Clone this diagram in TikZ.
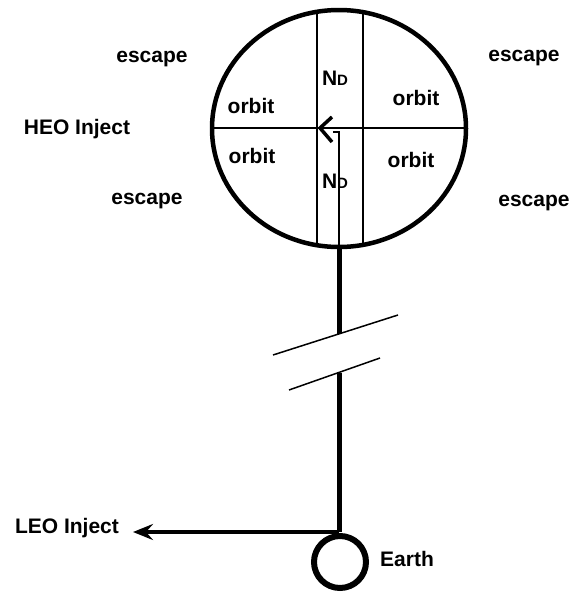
\documentclass[tikz,border=0pt]{standalone}
\usepackage{fontspec}
\setmainfont{Liberation Sans}
\usetikzlibrary{arrows.meta,shapes.geometric}
\tikzset{
  lbl/.style={font=\fontsize{21}{24}\selectfont\bfseries, anchor=base, inner sep=0pt},
  thin line/.style={line width=2pt},
  thick line/.style={line width=5pt},
  break line/.style={line width=1.5pt},
}
\newcommand{\ND}{N{\fontsize{15}{15}\selectfont D}}
\begin{document}
\begin{tikzpicture}[x=1pt,y=-1pt]
\useasboundingbox (0,0) rectangle (572,592);
% main sphere
\node[draw, ellipse, line width=4.5pt, minimum width=254pt, minimum height=237pt, inner sep=0pt] (heo) at (339,128.5) {};
\begin{scope}
  \clip (339,128.5) ellipse [x radius=127pt, y radius=118.5pt];
  \draw[thin line] (317,0) -- (317,260);
  \draw[thin line] (363,0) -- (363,260);
  \draw[thin line] (200,128) -- (480,128);
  \draw[thin line] (333,132) -- (339,132) -- (339,260);
\end{scope}
% arrowhead at centre
\coordinate (ctr) at (320,128);
\draw[line width=3.5pt] (332,117) -- (ctr) -- (332,142);
% stem
\coordinate (stemtop) at (339,247);
\coordinate (stembreak1) at (339,334);
\coordinate (stembreak2) at (339,373);
\coordinate (leo) at (339,532);
\coordinate (leotip) at (133,532);
\draw[thick line] (stemtop) -- (stembreak1);
\draw[thick line] (stembreak2) -- (leo);
\coordinate (b1a) at (273,355); \coordinate (b1b) at (398,315);
\coordinate (b2a) at (289,390); \coordinate (b2b) at (380,358);
\draw[break line] (b1a) -- (b1b);
\draw[break line] (b2a) -- (b2b);
% LEO arrow
\draw[line width=3.5pt, -{Stealth[length=20pt,width=16pt,inset=7pt]}] (leo) -- (leotip);
% Earth
\node[draw, circle, line width=6pt, minimum size=52pt, inner sep=0pt] (earth) at (340,562) {};
% labels
\node[lbl] (e1) at (152,62) {escape};
\node[lbl] (e2) at (524,61) {escape};
\node[lbl] (e3) at (147,204) {escape};
\node[lbl] (e4) at (534,206) {escape};
\node[lbl] (heol) at (77,134) {HEO Inject};
\node[lbl] (o1) at (251,113) {orbit};
\node[lbl] (o2) at (416,105) {orbit};
\node[lbl] (o3) at (252,163) {orbit};
\node[lbl] (o4) at (411,167) {orbit};
\node[lbl] (n1) at (335,85) {\ND};
\node[lbl] (n2) at (335,188) {\ND};
\node[lbl] (leol) at (67,533) {LEO Inject};
\node[lbl] (earthl) at (407,566) {Earth};
\end{tikzpicture}
\end{document}
